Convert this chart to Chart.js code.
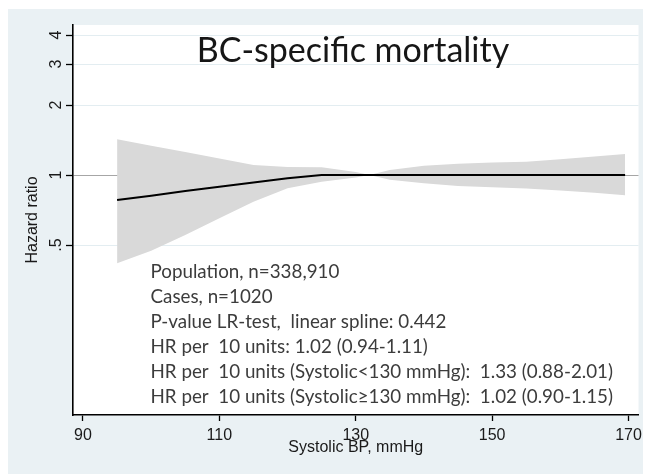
<!DOCTYPE html>
<html>
<head>
<meta charset="utf-8">
<script src="https://cdn.jsdelivr.net/npm/chart.js@4/dist/chart.umd.min.js"></script>
<style>
html,body{margin:0;padding:0;background:#fff;}
canvas{display:block;}
</style>
</head>
<body>
<canvas id="c" width="647" height="474"></canvas>
<script>
// ---- data ----
const xs       = [95, 100, 105, 110, 115, 120, 125, 130, 132, 135, 140, 145, 150, 155, 160, 165, 169.5];
const hr       = [0.78, 0.815, 0.853, 0.89, 0.929, 0.969, 1.0, 1.0, 1.0, 1.0, 1.0, 1.0, 1.0, 1.0, 1.0, 1.0, 1.0];
const ciUpper  = [1.424, 1.337, 1.255, 1.178, 1.105, 1.082, 1.079, 1.03, 1.0, 1.05, 1.095, 1.118, 1.131, 1.141, 1.168, 1.2, 1.23];
const ciLower  = [0.417, 0.473, 0.552, 0.651, 0.768, 0.877, 0.936, 0.976, 1.0, 0.955, 0.922, 0.897, 0.886, 0.876, 0.858, 0.838, 0.818];
const xTicks   = [90, 110, 130, 150, 170];
const yTicks   = [0.5, 1, 2, 3, 4];
const yTickLabels = ['.5', '1', '2', '3', '4'];
const titleText = 'BC-specific mortality';
const xTitle = 'Systolic BP, mmHg';
const yTitle = 'Hazard ratio';
const notes = [
  'Population, n=338,910',
  'Cases, n=1020',
  'P-value LR-test,  linear spline: 0.442',
  'HR per  10 units: 1.02 (0.94-1.11)',
  'HR per  10 units (Systolic<130 mmHg):  1.33 (0.88-2.01)',
  'HR per  10 units (Systolic\u2265130 mmHg):  1.02 (0.90-1.15)'
];

const pts = arr => xs.map((x, i) => ({x: x, y: arr[i]}));

const bgPlugin = {
  id: 'bg',
  beforeDraw(chart) {
    const {ctx, chartArea: a} = chart;
    ctx.save();
    ctx.fillStyle = '#ffffff';
    ctx.fillRect(0, 0, chart.width, chart.height);
    ctx.fillStyle = '#eaf1f4';
    ctx.fillRect(8, 9, 635, 465);
    ctx.fillStyle = '#ffffff';
    ctx.fillRect(a.left, a.top, a.right - a.left, a.bottom - a.top);
    ctx.restore();
  }
};

const textPlugin = {
  id: 'texts',
  afterDraw(chart) {
    const {ctx, chartArea: a} = chart;
    const y = chart.scales.y;
    ctx.save();
    // rotated y tick labels
    ctx.fillStyle = '#1a1a1a';
    ctx.font = '16px "Liberation Sans", Arial, sans-serif';
    ctx.textAlign = 'center';
    ctx.textBaseline = 'alphabetic';
    yTicks.forEach((v, i) => {
      const py = y.getPixelForValue(v);
      ctx.save();
      ctx.translate(a.left - 12.5, py);
      ctx.rotate(-Math.PI / 2);
      ctx.fillText(yTickLabels[i], 0, 0);
      ctx.restore();
    });
    // title inside plot
    ctx.fillStyle = '#161616';
    ctx.font = '34px Lato, "Open Sans", sans-serif';
    ctx.textAlign = 'center';
    ctx.fillText(titleText, 353, 62);
    // notes
    ctx.fillStyle = '#3c3c3c';
    ctx.font = '18.8px Lato, "Open Sans", sans-serif';
    ctx.textAlign = 'left';
    notes.forEach((t, i) => ctx.fillText(t, 150.5, 278 + 25 * i));
    ctx.restore();
  }
};

new Chart(document.getElementById('c'), {
  type: 'line',
  data: {
    datasets: [
      { label: 'HR', data: pts(hr), borderColor: '#000000', borderWidth: 2, pointRadius: 0, fill: false, tension: 0 },
      { label: 'upper', data: pts(ciUpper), borderWidth: 0, borderColor: 'rgba(0,0,0,0)', backgroundColor: '#d9d9d9', pointRadius: 0, fill: '+1', tension: 0 },
      { label: 'lower', data: pts(ciLower), borderWidth: 0, borderColor: 'rgba(0,0,0,0)', pointRadius: 0, fill: false, tension: 0 }
    ]
  },
  options: {
    responsive: false,
    animation: false,
    devicePixelRatio: 1,
    layout: { padding: { top: 25, right: 8, left: 0, bottom: 0 } },
    plugins: { legend: { display: false }, tooltip: { enabled: false } },
    scales: {
      x: {
        type: 'linear',
        min: 88.535, max: 171.465,
        afterBuildTicks: s => { s.ticks = xTicks.map(v => ({value: v})); },
        afterFit: s => { s.height = 59; },
        grid: { drawOnChartArea: false, drawTicks: true, tickLength: 6, tickColor: '#000', tickWidth: 1.3 },
        border: { display: true, color: '#000', width: 1.6 },
        ticks: { color: '#1a1a1a', padding: 5, maxRotation: 0, font: { family: '"Liberation Sans", Arial, sans-serif', size: 16 } },
        title: { display: true, text: xTitle, color: '#1a1a1a', padding: { top: 0, bottom: 16.4 }, font: { family: '"Liberation Sans", Arial, sans-serif', size: 16 } }
      },
      y: {
        type: 'logarithmic',
        min: 0.0929, max: 4.417,
        afterBuildTicks: s => { s.ticks = yTicks.map(v => ({value: v})); },
        afterFit: s => { s.width = 73; },
        grid: {
          drawOnChartArea: true, drawTicks: true, tickLength: 7, tickColor: '#000', tickWidth: 1.3,
          color: c => (c.tick && c.tick.value === 1) ? '#a6a6a6' : '#e3edf1',
          lineWidth: 1
        },
        border: { display: true, color: '#000', width: 1.6 },
        ticks: { display: false },
        title: { display: true, text: yTitle, color: '#1a1a1a', padding: { top: 23.4, bottom: 0 }, font: { family: '"Liberation Sans", Arial, sans-serif', size: 16 } }
      }
    }
  },
  plugins: [bgPlugin, textPlugin]
});
</script>
</body>
</html>
